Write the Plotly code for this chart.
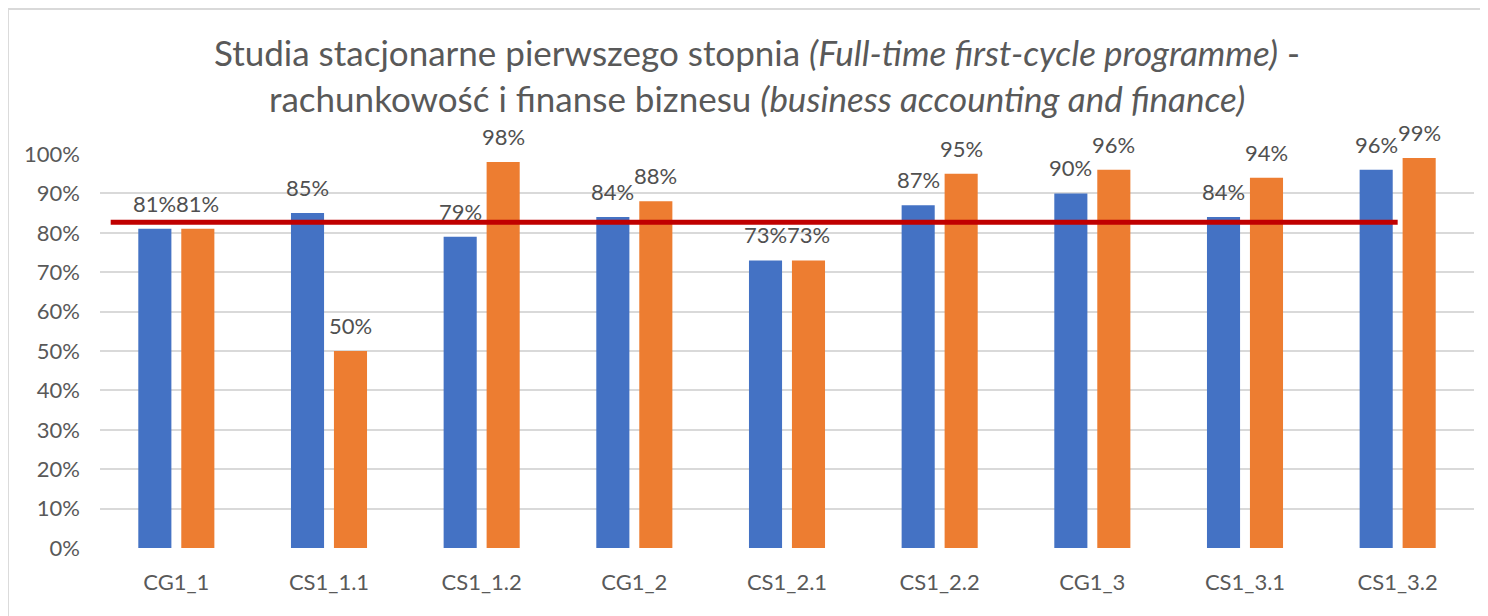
import plotly.graph_objects as go

categories = ["CG1_1", "CS1_1.1", "CS1_1.2", "CG1_2", "CS1_2.1",
              "CS1_2.2", "CG1_3", "CS1_3.1", "CS1_3.2"]
blue_vals = [81, 85, 79, 84, 73, 87, 90, 84, 96]
orange_vals = [81, 50, 98, 88, 73, 95, 96, 94, 99]
target = 82.7

FONT = "Lato"
GREY = "#595959"

fig = go.Figure()
fig.add_bar(x=categories, y=blue_vals, marker_color="#4472C4",
            marker_line_width=0, hoverinfo="skip")
fig.add_bar(x=categories, y=orange_vals, marker_color="#ED7D31",
            marker_line_width=0, hoverinfo="skip")

# data labels above each bar (shifted onto the grouped bars)
annotations = []
for vals, shift in ((blue_vals, -21.5), (orange_vals, 21.5)):
    for c, v in zip(categories, vals):
        annotations.append(dict(x=c, y=v, xref="x", yref="y", text=f"{v}%",
                                showarrow=False, xshift=shift, yshift=10,
                                yanchor="bottom",
                                font=dict(family=FONT, size=22, color="#505050")))

# two-line title
annotations.append(dict(x=0.478, y=1.2, xref="paper", yref="paper",
                        yanchor="bottom", showarrow=False,
                        text="Studia stacjonarne pierwszego stopnia <i>(Full-time first-cycle programme)</i> -",
                        font=dict(family=FONT, size=35, color=GREY)))
annotations.append(dict(x=0.478, y=1.085, xref="paper", yref="paper",
                        yanchor="bottom", showarrow=False,
                        text="rachunkowość i finanse biznesu <i>(business accounting and finance)</i>",
                        font=dict(family=FONT, size=35, color=GREY)))

fig.update_layout(
    width=1480, height=608,
    margin=dict(l=92, r=14, t=146, b=68),
    paper_bgcolor="white", plot_bgcolor="white",
    barmode="group", bargap=0.437, bargroupgap=0.23,
    showlegend=False,
    annotations=annotations,
    font=dict(family=FONT, size=22, color=GREY),
    shapes=[
        dict(type="line", xref="x", yref="y", x0=-0.43, x1=8.0,
             y0=target, y1=target, line=dict(color="#C00000", width=5)),
        dict(type="rect", xref="paper", yref="paper", x0=-0.067, x1=1.2,
             y0=-0.3, y1=1.368, line=dict(color="#D9D9D9", width=2),
             layer="below"),
    ],
)
fig.update_xaxes(showgrid=False, showline=False, zeroline=False,
                 ticks="", ticklabelstandoff=19,
                 tickfont=dict(family=FONT, size=22, color=GREY))
fig.update_yaxes(range=[0, 100], dtick=10, ticksuffix="%",
                 showgrid=True, gridcolor="#D9D9D9", gridwidth=1.5,
                 zeroline=False, showline=False, ticks="",
                 ticklabelstandoff=19,
                 tickfont=dict(family=FONT, size=22, color=GREY))

fig.write_html("out.html")
